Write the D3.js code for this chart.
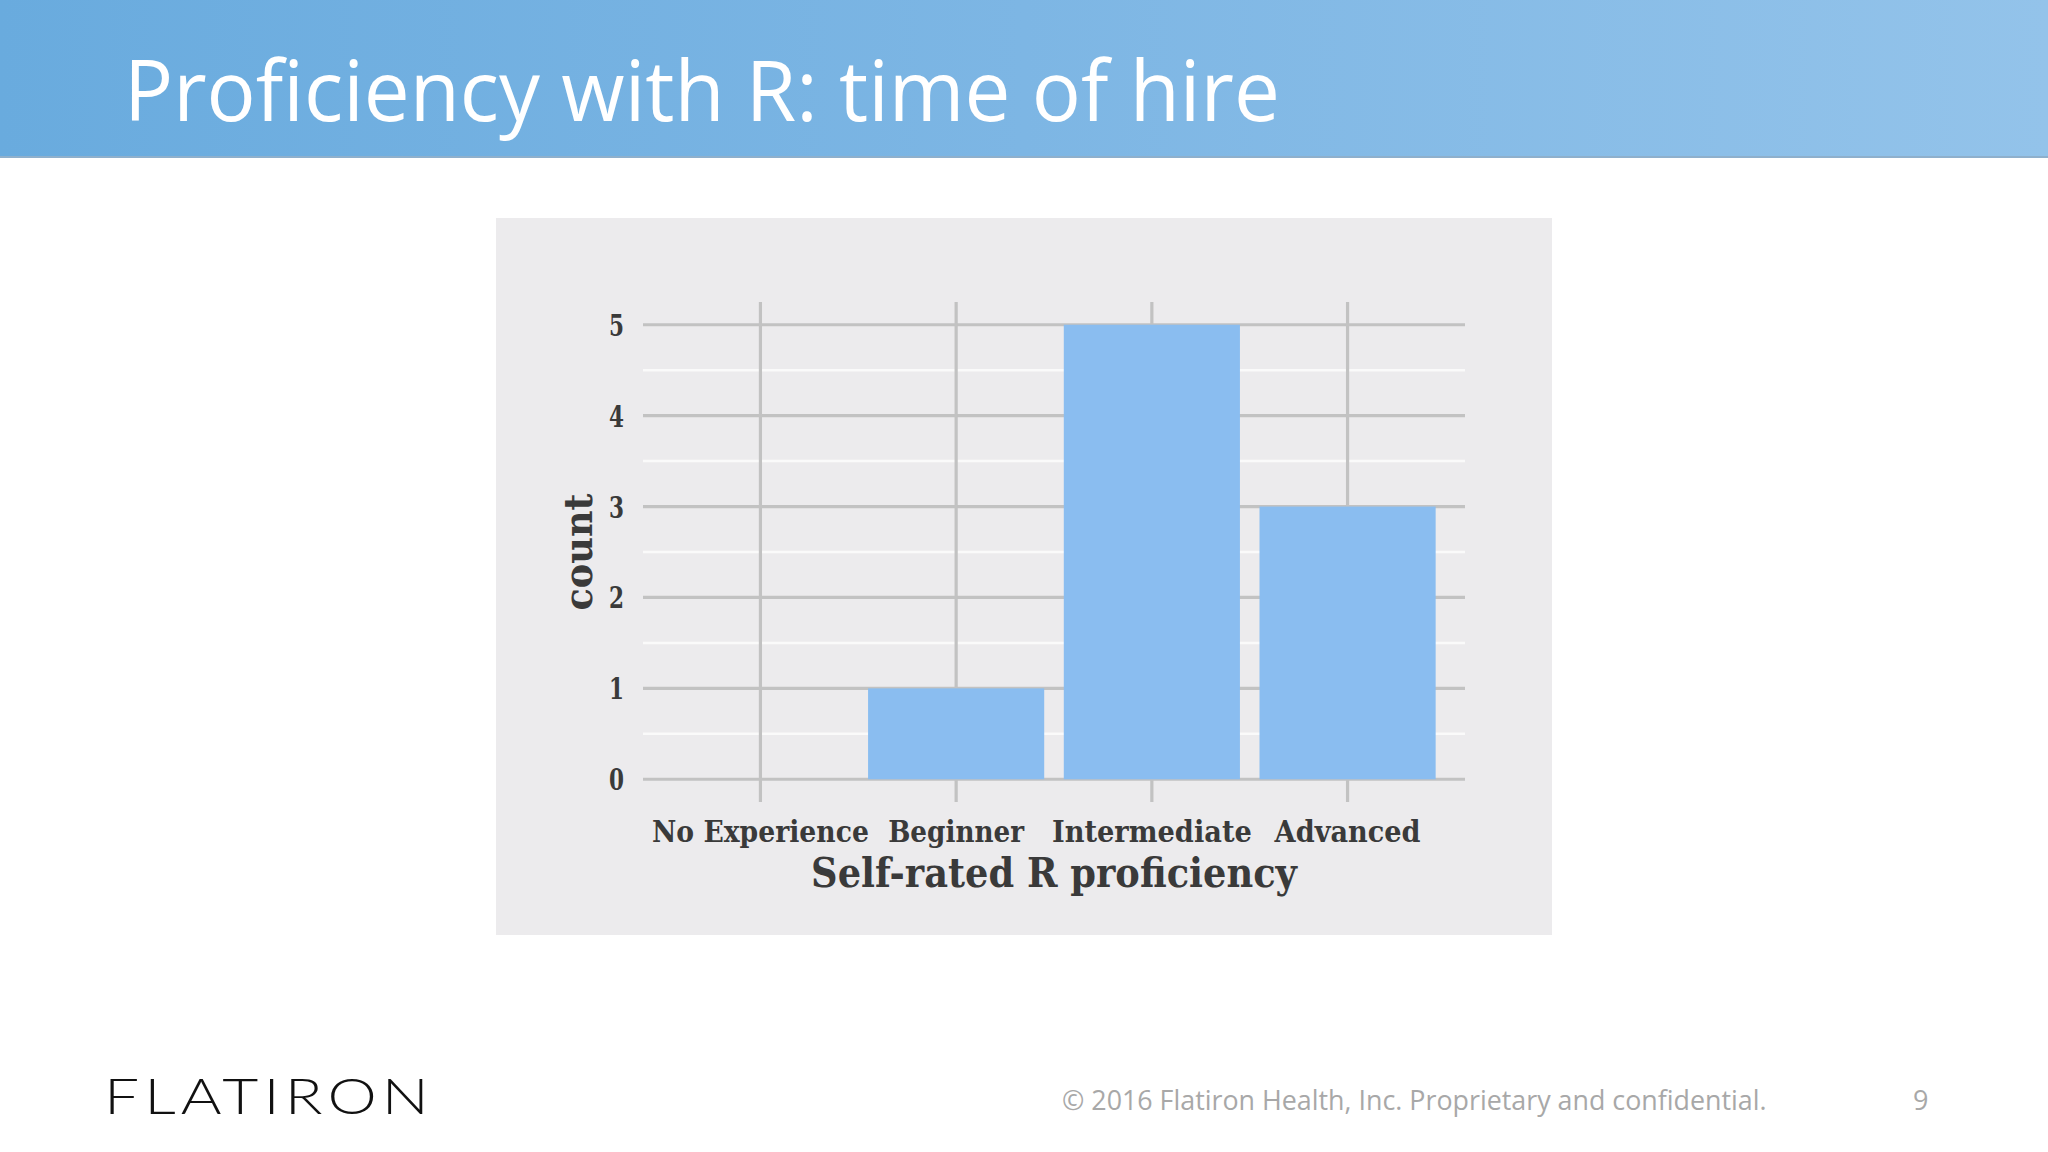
<!DOCTYPE html>
<html><head><meta charset="utf-8">
<script src="https://cdn.jsdelivr.net/npm/d3@7"></script>
<style>html,body{margin:0;padding:0;background:#fff;overflow:hidden}</style>
</head><body>
<svg id="c" width="2048" height="1152"></svg>
<script>
const categories = ["No Experience", "Beginner", "Intermediate", "Advanced"];
const counts = [0, 1, 5, 3];
const yTicks = [0, 1, 2, 3, 4, 5];
const yMinor = [0.5, 1.5, 2.5, 3.5, 4.5];
const titleText = "Proficiency with R: time of hire";
const xTitle = "Self-rated R proficiency";
const yTitle = "count";
const footerText = "© 2016 Flatiron Health, Inc. Proprietary and confidential.";
const pageNumber = "9";
const logoText = "FLATIRON";

const svg = d3.select("#c");
const defs = svg.append("defs");
const grad = defs.append("linearGradient").attr("id", "hdr").attr("x1", "0").attr("x2", "1").attr("y1", "0").attr("y2", "0");
grad.append("stop").attr("offset", "0").attr("stop-color", "#69abde");
grad.append("stop").attr("offset", "0.5").attr("stop-color", "#7db6e4");
grad.append("stop").attr("offset", "1").attr("stop-color", "#93c3ea");

// header
svg.append("rect").attr("x", 0).attr("y", 0).attr("width", 2048).attr("height", 158).attr("fill", "url(#hdr)");
svg.append("rect").attr("x", 0).attr("y", 156).attr("width", 2048).attr("height", 2).attr("fill", "#8fb0cc");

function label(parent, str, x, y, attrs, targetW, rotate) {
  const g = parent.append("g");
  const t = g.append("text").text(str);
  Object.entries(attrs).forEach(([k, v]) => t.attr(k, v));
  let s = 1;
  if (targetW) { const w = t.node().getComputedTextLength(); s = targetW / w; }
  g.attr("transform", `translate(${x},${y})` + (rotate ? ` rotate(${rotate})` : "") + ` scale(${s},1)`);
  return g;
}

label(svg, titleText, 124, 121, {"font-family": "'Open Sans', 'Noto Sans', sans-serif", "font-size": 84, "fill": "#ffffff"}, 1156);

// chart image panel
svg.append("rect").attr("x", 496).attr("y", 218).attr("width", 1056).attr("height", 717).attr("fill", "#ecebed");

const x = d3.scaleBand().domain(categories).range([643, 1465]).paddingInner(0.1).paddingOuter(0.15);
const y = d3.scaleLinear().domain([-0.25, 5.25]).range([802, 302]);
const [px0, px1] = x.range();
const [py0, py1] = y.range();

const grid = svg.append("g");
grid.selectAll(".minor").data(yMinor).join("line")
  .attr("x1", px0).attr("x2", px1).attr("y1", d => y(d)).attr("y2", d => y(d))
  .attr("stroke", "#fafafa").attr("stroke-width", 2.5);
grid.selectAll(".major").data(yTicks).join("line")
  .attr("x1", px0).attr("x2", px1).attr("y1", d => y(d)).attr("y2", d => y(d))
  .attr("stroke", "#c2c2c2").attr("stroke-width", 3.2);
grid.selectAll(".vmajor").data(categories).join("line")
  .attr("x1", d => x(d) + x.bandwidth() / 2).attr("x2", d => x(d) + x.bandwidth() / 2)
  .attr("y1", py1).attr("y2", py0)
  .attr("stroke", "#c2c2c2").attr("stroke-width", 3.2);

svg.append("g").selectAll("rect").data(categories.map((c, i) => ({c, v: counts[i]}))).join("rect")
  .attr("x", d => x(d.c)).attr("width", x.bandwidth())
  .attr("y", d => y(d.v)).attr("height", d => y(0) - y(d.v))
  .attr("fill", "#8abdf0");

const serif = {"font-family": "'DejaVu Serif', serif", "font-weight": "bold", "fill": "#3a3a3a"};
yTicks.forEach(t => {
  label(svg, String(t), 624, y(t) + 11, Object.assign({"font-size": 30, "text-anchor": "end"}, serif), 15);
});
const xw = [217, 136, 200, 146];
categories.forEach((c, i) => {
  label(svg, c, x(c) + x.bandwidth() / 2, 842, Object.assign({"font-size": 29, "text-anchor": "middle"}, serif), xw[i]);
});
label(svg, xTitle, (px0 + px1) / 2, 887, Object.assign({"font-size": 41, "text-anchor": "middle"}, serif), 486);
label(svg, yTitle, 592, (py0 + py1) / 2, Object.assign({"font-size": 40, "text-anchor": "middle"}, serif), 117, -90);

// footer
label(svg, logoText, 104, 1114, {"font-family": "Lato, 'Open Sans', sans-serif", "font-weight": 300, "font-size": 49, "fill": "#111", "letter-spacing": 4}, 330);
label(svg, footerText, 1062, 1110, {"font-family": "'Open Sans', 'Noto Sans', sans-serif", "font-size": 27, "fill": "#a8a8a8"}, 705);
label(svg, pageNumber, 1913, 1110, {"font-family": "'Open Sans', 'Noto Sans', sans-serif", "font-size": 27, "fill": "#a8a8a8"});
</script>
</body></html>
